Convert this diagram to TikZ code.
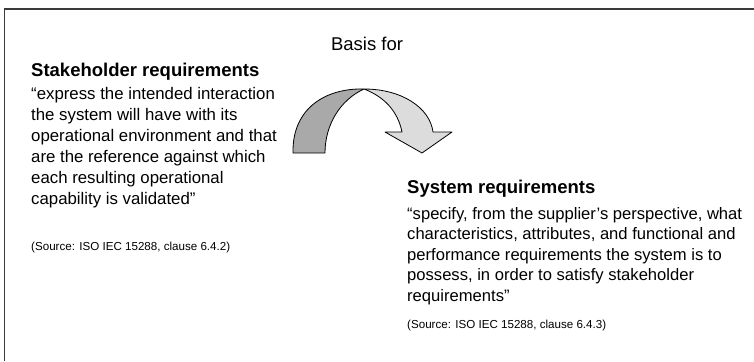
\documentclass[tikz,border=0pt]{standalone}
\usepackage{fontspec}
\setmainfont{Liberation Sans}
\definecolor{darkband}{HTML}{A9A9A9}
\definecolor{lightband}{HTML}{DCDCDC}
\definecolor{framecol}{HTML}{3A3A3A}
\begin{document}
\begin{tikzpicture}[x=1pt,y=-1pt,
  titletext/.style={anchor=base west,inner sep=0pt,font=\fontsize{18.5}{22}\selectfont\bfseries},
  bodytext/.style={anchor=north west,inner sep=0pt,align=left,font=\fontsize{16.8}{21}\selectfont},
  srctext/.style={anchor=base west,inner sep=0pt,font=\fontsize{11.6}{14}\selectfont},
  band/.style={draw=black,line width=0.8pt,line join=round}]
\useasboundingbox (0,0) rectangle (754,361);
\fill[white] (0,0) rectangle (754,361);
\draw[framecol,line width=1.6pt] (4.5,361) -- (4.5,9) -- (754,9);

\node[anchor=base,inner sep=0pt,font=\fontsize{18.5}{22}\selectfont] (basis) at (367,51) {Basis for};

\node[titletext] (sth) at (31,77) {Stakeholder requirements};
\node[bodytext] (sthq) at (31,87.5) {“express the intended interaction\\the system will have with its\\operational environment and that\\are the reference against which\\each resulting operational\\capability is validated”};
\node[srctext] (sths) at (31,250) {(Source: ISO IEC 15288, clause 6.4.2)};

\node[titletext] (sys) at (407,193) {System requirements};
\node[bodytext,font=\fontsize{16.6}{20.5}\selectfont] (sysq) at (407,207) {“specify, from the supplier’s perspective, what\\characteristics, attributes, and functional and\\performance requirements the system is to\\possess, in order to satisfy stakeholder\\requirements”};
\node[srctext] (syss) at (407,328) {(Source: ISO IEC 15288, clause 6.4.3)};

% curved arrow
\coordinate (top) at (364,89);
\filldraw[band,fill=darkband] (293,153) .. controls (292,108) and (326,88) .. (top)
   .. controls (340,100) and (325,125) .. (325,153) -- cycle;
\filldraw[band,fill=lightband] (top) .. controls (402,89) and (430,108) .. (433,132)
   -- (452,132) -- (422,153) -- (385,132) -- (402,132)
   .. controls (398,112) and (385,97) .. (top) -- cycle;
\end{tikzpicture}
\end{document}
